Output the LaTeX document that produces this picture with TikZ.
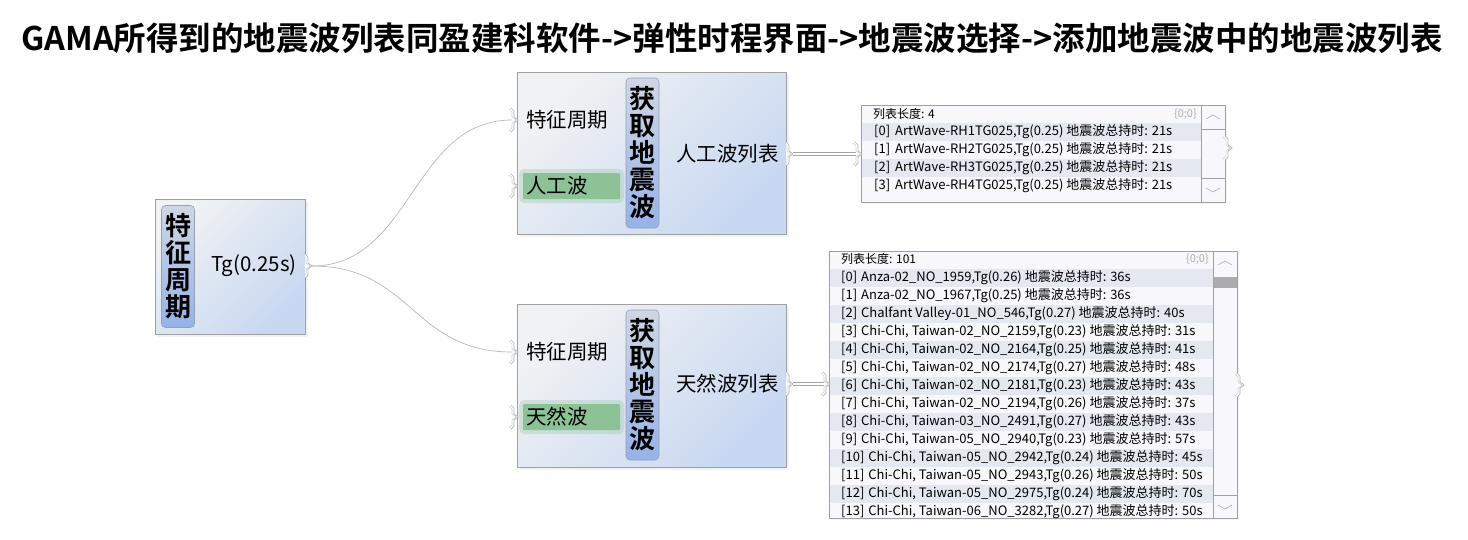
\documentclass[tikz,border=0pt]{standalone}
\usepackage{fontspec}
\setmainfont{Noto Sans CJK SC}
\newfontfamily\boldcjk{Noto Sans CJK SC Bold}
\usetikzlibrary{positioning, calc, shadows}

\begin{document}
\begin{tikzpicture}[x=1pt, y=-1pt,
    nodebox/.style={draw=boxgray, line width=0.8pt, top color=boxtop, bottom color=boxbot, shading angle=45,
        drop shadow={shadow xshift=3pt, shadow yshift=-3pt, opacity=0.10}, inner sep=0pt},
    namebar/.style={draw=bargray, line width=0.6pt, rounded corners=4pt, top color=bartop, bottom color=barbot,
        inner sep=0pt, align=center, font=\boldcjk\fontsize{26}{27}\selectfont},
    portlbl/.style={anchor=west, inner sep=0pt, font=\fontsize{20.5}{22}\selectfont},
    portline/.style={draw=gray!60, line width=0.7pt},
    wire/.style={draw=gray!55, line width=0.7pt},
    dwire/.style={draw=gray!70, line width=0.8pt, double=white, double distance=1.8pt},
    listbox/.style={draw=boxgray, line width=0.8pt, fill=listbg, inner sep=0pt,
        drop shadow={shadow xshift=2pt, shadow yshift=-2pt, opacity=0.08}},
    rowtxt/.style={anchor=west, inner sep=0pt, font=\fontsize{13}{15}\selectfont},
    ]
    % màu
    \definecolor{boxgray}{RGB}{160, 160, 160}
    \definecolor{boxtop}{RGB}{241, 242, 243}
    \definecolor{boxbot}{RGB}{200, 216, 242}
    \definecolor{bargray}{RGB}{150, 160, 178}
    \definecolor{bartop}{RGB}{208, 215, 228}
    \definecolor{barbot}{RGB}{150, 178, 232}
    \definecolor{greenhl}{RGB}{140, 194, 150}
    \definecolor{listbg}{RGB}{248, 248, 252}
    \definecolor{rowshade}{RGB}{228, 232, 240}
    \definecolor{chevgray}{RGB}{175, 175, 175}

    \useasboundingbox[fill=white] (0,0) rectangle (1468,539);

    % tiêu đề
    \node[font=\boldcjk\fontsize{32.5}{36}\selectfont] (title) at (732,38)
        {GAMA所得到的地震波列表同盈建科软件->弹性时程界面->地震波选择->添加地震波中的地震波列表};

    % 1. Nút đặc trưng chu kỳ (bên trái)
    \node[nodebox, minimum width=150, minimum height=135] (tgbox) at (230,266.5) {};
    \node[namebar, minimum width=33, minimum height=122] (tgbar) at (178,266.5) {特\\征\\周\\期};
    \node[portlbl] (tgval) at (211,266) {Tg(0.25s)};

    % 2. Hai nút lấy sóng địa chấn
    \node[nodebox, minimum width=269, minimum height=162] (awbox) at (651.5,153) {};
    \fill[greenhl, opacity=0.3, rounded corners=5pt] (519,169) rectangle (624,203);
    \fill[greenhl, rounded corners=1pt] (523,173) rectangle (620,199);
    \node[namebar, minimum width=33, minimum height=150] (awbar) at (642.5,153) {获\\取\\地\\震\\波};
    \node[portlbl] (awtg) at (526,120) {特征周期};
    \node[portlbl] (awtype) at (526,186) {人工波};
    \node[portlbl] (awout) at (676,154) {人工波列表};

    \node[nodebox, minimum width=269, minimum height=163] (nwbox) at (651.5,385.5) {};
    \fill[greenhl, opacity=0.3, rounded corners=5pt] (519,400) rectangle (624,434);
    \fill[greenhl, rounded corners=1pt] (523,404) rectangle (620,430);
    \node[namebar, minimum width=33, minimum height=150] (nwbar) at (642.5,385) {获\\取\\地\\震\\波};
    \node[portlbl] (nwtg) at (526,352) {特征周期};
    \node[portlbl] (nwtype) at (526,417) {天然波};
    \node[portlbl] (nwout) at (676,384) {天然波列表};

    % 3. Danh sách sóng nhân tạo
    \node[listbox, minimum width=364, minimum height=97] (awlist) at (1043,153.5) {};
    \foreach \i in {0,2} {
        \fill[rowshade] (862,123+18*\i) rectangle (1201,141+18*\i);
    }
    \node[rowtxt, font=\fontsize{12}{14}\selectfont] (awlen) at (873,114) {列表长度: 4};
    \node[rowtxt, text=chevgray, font=\fontsize{11}{13}\selectfont, anchor=east] at (1197,114) {\{0;0\}};
    \foreach \wv [count=\i from 0] in {1,2,3,4} {
        \node[rowtxt] at (874,132+18*\i) {[\i]\hspace{5pt}ArtWave-RH\wv TG025,Tg(0.25) 地震波总持时: 21s};
    }
    % thanh cuộn
    \draw[boxgray, line width=0.6pt] (1201,105) -- (1201,202) (1201,129) -- (1225,129) (1201,178) -- (1225,178);
    \draw[chevgray, line width=0.6pt] (1206,119) -- (1213,115) -- (1220,119);
    \draw[chevgray, line width=0.6pt] (1206,188) -- (1213,192) -- (1220,188);

    % 4. Danh sách sóng tự nhiên
    \node[listbox, minimum width=408, minimum height=267] (nwlist) at (1033,384.5) {};
    \begin{scope}
        \clip (829,251) rectangle (1213,518);
        \foreach \i in {0,2,...,12} {
            \fill[rowshade] (830,269+18*\i) rectangle (1213,287+18*\i);
        }
        \foreach \nm/\tg/\dur [count=\i from 0] in {
            {Anza-02\_NO\_1959}/0.26/36,
            {Anza-02\_NO\_1967}/0.25/36,
            {Chalfant Valley-01\_NO\_546}/0.27/40,
            {Chi-Chi, Taiwan-02\_NO\_2159}/0.23/31,
            {Chi-Chi, Taiwan-02\_NO\_2164}/0.25/41,
            {Chi-Chi, Taiwan-02\_NO\_2174}/0.27/48,
            {Chi-Chi, Taiwan-02\_NO\_2181}/0.23/43,
            {Chi-Chi, Taiwan-02\_NO\_2194}/0.26/37,
            {Chi-Chi, Taiwan-03\_NO\_2491}/0.27/43,
            {Chi-Chi, Taiwan-05\_NO\_2940}/0.23/57,
            {Chi-Chi, Taiwan-05\_NO\_2942}/0.24/45,
            {Chi-Chi, Taiwan-05\_NO\_2943}/0.26/50,
            {Chi-Chi, Taiwan-05\_NO\_2975}/0.24/70,
            {Chi-Chi, Taiwan-06\_NO\_3282}/0.27/50} {
            \node[rowtxt] at (841,278+18*\i) {[\i]\hspace{4pt}\nm,Tg(\tg) 地震波总持时: \dur s};
        }
    \end{scope}
    \node[rowtxt, font=\fontsize{12}{14}\selectfont] (nwlen) at (841,259) {列表长度: 101};
    \node[rowtxt, text=chevgray, font=\fontsize{11}{13}\selectfont, anchor=east] at (1209,259) {\{0;0\}};
    \draw[boxgray, line width=0.6pt] (1213,251) -- (1213,518) (1213,495) -- (1237,495);
    \fill[gray!65] (1214,277) rectangle (1236.5,288);
    \draw[chevgray, line width=0.6pt] (1218,265) -- (1225,261) -- (1232,265);
    \draw[chevgray, line width=0.6pt] (1218,505) -- (1225,509) -- (1232,505);

    % 5. Các cổng (ngoặc nhọn ở mép)
    \foreach \px/\py in {305/266, 511/120, 511/186, 786/154, 511/352, 511/417, 786/384, 855/154, 823/384, 1225/148, 1237/385} {
        \draw[portline, fill=white] (\px,\py-12) -- ++(3,3) -- ++(0,6) -- ++(4,3) -- ++(-4,3) -- ++(0,6) -- ++(-3,3);
        \draw[portline, draw=gray!35] (\px-2,\py-11) -- ++(3,3) -- ++(0,5) -- ++(4,3) -- ++(-4,3) -- ++(0,5) -- ++(-3,3);
    }

    % 6. Dây nối
    \coordinate (tg_out) at (312,266);
    \coordinate (aw_in) at (512,120);
    \coordinate (nw_in) at (512,352);
    \coordinate (aw_out) at (793,154);
    \coordinate (awlist_in) at (856,154);
    \coordinate (nw_out) at (793,384);
    \coordinate (nwlist_in) at (824,384);
    \draw[wire] (tg_out) .. controls +(100,0) and +(-100,0) .. (aw_in);
    \draw[wire] (tg_out) .. controls +(100,0) and +(-100,0) .. (nw_in);
    \draw[dwire] (aw_out) -- (awlist_in);
    \draw[dwire] (nw_out) -- (nwlist_in);
\end{tikzpicture}
\end{document}
